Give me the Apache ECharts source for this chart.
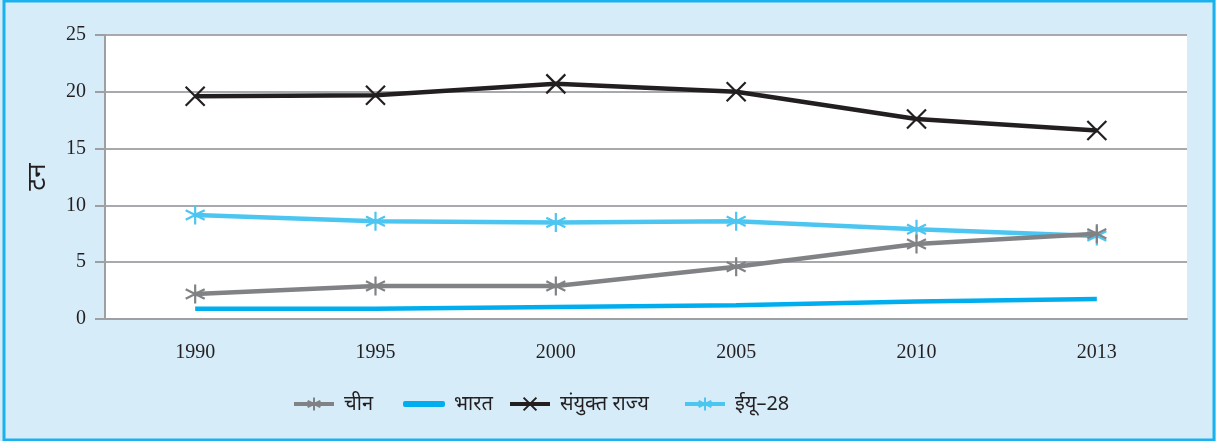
<!DOCTYPE html>
<html>
<head>
<meta charset="utf-8">
<script src="https://cdn.jsdelivr.net/npm/echarts@6/dist/echarts.min.js"></script>
<style>
  html, body { margin: 0; padding: 0; }
  #chart { width: 1216px; height: 441px; background: #d6ecf9; }
</style>
</head>
<body>
<div id="chart"></div>
<script>
const years = ['1990', '1995', '2000', '2005', '2010', '2013'];
const china = [2.2, 2.9, 2.9, 4.6, 6.6, 7.5];
const india = [0.9, 0.9, 1.05, 1.2, 1.55, 1.75];
const usa = [19.6, 19.7, 20.7, 20.0, 17.6, 16.6];
const eu28 = [9.15, 8.6, 8.5, 8.6, 7.9, 7.3];
const yTicks = [0, 5, 10, 15, 20, 25];

const names = ['चीन', 'भारत', 'संयुक्त राज्य', 'ईयू–28'];
const colors = ['#808285', '#00aeef', '#231f20', '#4cc6f1'];

const starPath = 'path://M10,0 L10,20 M1,5 L19,15 M1,15 L19,5';
const crossPath = 'path://M0,0 L20,20 M0,20 L20,0';

const devFont = '"Noto Sans", "DejaVu Sans", sans-serif';

function lineSeries(i, data, symbol, size) {
  return {
    name: names[i],
    type: 'line',
    data: data,
    symbol: symbol,
    symbolSize: size,
    showSymbol: symbol !== 'none',
    z: 5 - i,
    lineStyle: { color: colors[i], width: 4.5 },
    itemStyle: { color: colors[i], borderColor: colors[i], borderWidth: 2.2 },
    emphasis: { disabled: true }
  };
}

function oneLegend(i, left, icon) {
  const item = { name: names[i] };
  if (icon) item.icon = icon;
  return {
    data: [item],
    left: left,
    top: 394,
    padding: 0,
    itemWidth: 40,
    itemHeight: icon ? 4 : 16,
    lineStyle: { width: 4 },
    textStyle: {
      fontFamily: devFont, fontSize: 20, color: '#231f20',
      padding: [0, 0, 0, 5]
    }
  };
}

const chart = echarts.init(document.getElementById('chart'));
chart.setOption({
  animation: false,
  color: colors,
  grid: {
    left: 105, right: 29, top: 35, bottom: 122,
    show: true, backgroundColor: '#ffffff', borderWidth: 0
  },
  graphic: [{
    type: 'rect',
    shape: { x: 4, y: 1, width: 1210, height: 439 },
    style: { fill: 'none', stroke: '#19b2ee', lineWidth: 3 },
    silent: true
  }],
  legend: [
    oneLegend(0, 292),
    oneLegend(1, 403, 'roundRect'),
    oneLegend(2, 508),
    oneLegend(3, 683)
  ],
  xAxis: {
    type: 'category',
    data: years,
    boundaryGap: true,
    axisLine: { lineStyle: { color: '#9d9fa2', width: 2 } },
    axisTick: { length: 6, lineStyle: { color: '#9d9fa2', width: 2 } },
    axisLabel: {
      margin: 24,
      fontFamily: '"Liberation Serif", serif',
      fontSize: 20,
      color: '#231f20'
    }
  },
  yAxis: {
    type: 'value',
    min: yTicks[0],
    max: yTicks[yTicks.length - 1],
    interval: 5,
    name: 'टन',
    nameLocation: 'middle',
    nameRotate: 90,
    nameGap: 54,
    nameTextStyle: { fontFamily: devFont, fontSize: 26, color: '#231f20' },
    axisLine: { show: true, lineStyle: { color: '#9d9fa2', width: 2 } },
    axisTick: { show: true, length: 10, lineStyle: { color: '#9d9fa2', width: 2 } },
    axisLabel: {
      margin: 19,
      fontFamily: '"Liberation Serif", serif',
      fontSize: 20,
      color: '#231f20'
    },
    splitLine: { lineStyle: { color: '#a7a9ac', width: 2 } }
  },
  series: [
    lineSeries(0, china, starPath, 19),
    lineSeries(1, india, 'none', 0),
    lineSeries(2, usa, crossPath, 19),
    lineSeries(3, eu28, starPath, 19)
  ]
});
</script>
</body>
</html>
